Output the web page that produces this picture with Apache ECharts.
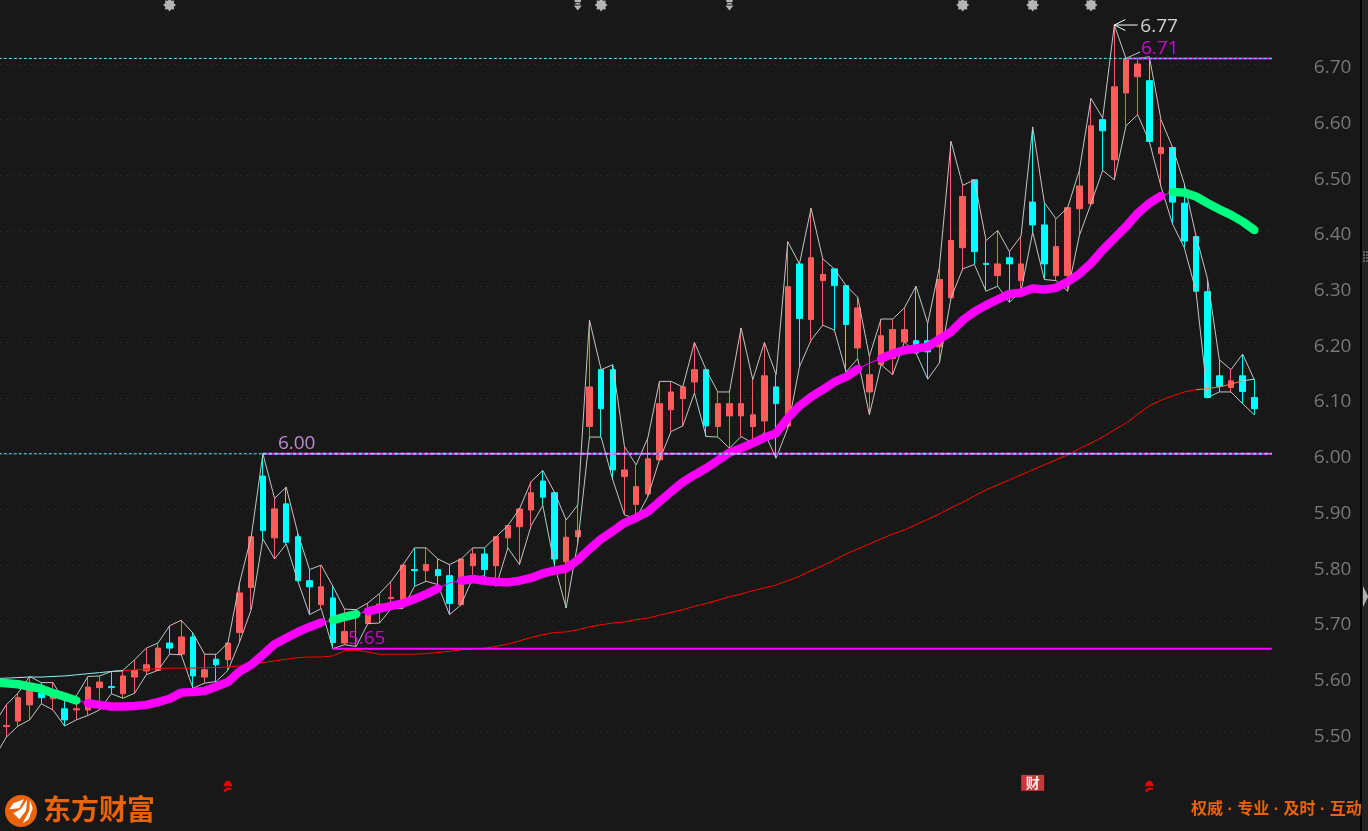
<!DOCTYPE html>
<html>
<head>
<meta charset="utf-8">
<title>K-line</title>
<style>
	html, body { margin: 0; padding: 0; background: #181818; }
	#main { width: 1368px; height: 831px; }
</style>
<script src="https://cdn.jsdelivr.net/npm/echarts@6/dist/echarts.min.js"></script>
</head>
<body>
<div id="main"></div>
<script>
// -------------------------
// Data
// First entry of each array sits just off the left edge, so the lines enter the plot from outside
// -------------------------
const opens = [
	5.500, 5.510, 5.520, 5.549, 5.570, 5.560, 5.542, 5.540, 5.540, 5.580,
	5.582, 5.569, 5.599, 5.610, 5.611, 5.660, 5.640, 5.671, 5.599, 5.631,
	5.630, 5.679, 5.760, 5.960, 5.849, 5.910, 5.851, 5.772, 5.729, 5.741,
	5.660, 5.708, 5.695, 5.720, 5.740, 5.732, 5.792, 5.790, 5.792, 5.781,
	5.729, 5.799, 5.820, 5.799, 5.849, 5.869, 5.899, 5.951, 5.930, 5.806,
	5.851, 6.049, 6.151, 6.151, 5.959, 5.909, 5.928, 5.989, 6.079, 6.099,
	6.129, 6.151, 6.049, 6.068, 6.068, 6.049, 6.059, 6.120, 6.050, 6.341,
	6.241, 6.311, 6.332, 6.302, 6.190, 6.111, 6.160, 6.171, 6.201, 6.203,
	6.203, 6.192, 6.280, 6.370, 6.492, 6.342, 6.320, 6.352, 6.311, 6.452,
	6.411, 6.320, 6.320, 6.440, 6.449, 6.600, 6.528, 6.648, 6.677, 6.670,
	6.539, 6.550, 6.450, 6.390, 6.291, 6.140, 6.119, 6.140, 6.101
];
const closes = [
	5.490, 5.512, 5.562, 5.576, 5.562, 5.567, 5.522, 5.542, 5.581, 5.590,
	5.580, 5.601, 5.611, 5.621, 5.651, 5.651, 5.671, 5.601, 5.612, 5.621,
	5.660, 5.750, 5.851, 5.862, 5.901, 5.841, 5.772, 5.761, 5.761, 5.661,
	5.681, 5.714, 5.720, 5.730, 5.742, 5.800, 5.790, 5.801, 5.781, 5.731,
	5.811, 5.820, 5.792, 5.851, 5.871, 5.901, 5.930, 5.922, 5.811, 5.850,
	5.862, 6.120, 6.081, 5.971, 5.971, 5.941, 5.991, 6.090, 6.111, 6.120,
	6.151, 6.050, 6.090, 6.090, 6.090, 6.070, 6.140, 6.090, 6.300, 6.243,
	6.352, 6.322, 6.302, 6.232, 6.262, 6.142, 6.212, 6.223, 6.223, 6.181,
	6.183, 6.313, 6.383, 6.462, 6.363, 6.340, 6.341, 6.341, 6.341, 6.411,
	6.341, 6.372, 6.442, 6.481, 6.589, 6.580, 6.659, 6.710, 6.700, 6.561,
	6.550, 6.452, 6.382, 6.292, 6.101, 6.121, 6.131, 6.112, 6.081
];
const lows = [
	5.455, 5.491, 5.511, 5.522, 5.551, 5.540, 5.511, 5.522, 5.530, 5.540,
	5.569, 5.561, 5.570, 5.603, 5.611, 5.640, 5.639, 5.579, 5.588, 5.591,
	5.611, 5.662, 5.720, 5.847, 5.811, 5.838, 5.771, 5.711, 5.722, 5.650,
	5.657, 5.654, 5.695, 5.696, 5.722, 5.722, 5.762, 5.771, 5.765, 5.711,
	5.729, 5.777, 5.781, 5.762, 5.831, 5.801, 5.871, 5.907, 5.800, 5.723,
	5.840, 6.030, 6.030, 5.953, 5.890, 5.884, 5.923, 5.989, 6.040, 6.050,
	6.109, 6.031, 6.030, 6.010, 6.031, 6.019, 6.038, 5.992, 6.046, 6.156,
	6.204, 6.231, 6.222, 6.147, 6.171, 6.070, 6.160, 6.142, 6.201, 6.181,
	6.134, 6.163, 6.280, 6.332, 6.340, 6.292, 6.301, 6.272, 6.292, 6.398,
	6.313, 6.311, 6.292, 6.392, 6.449, 6.509, 6.492, 6.589, 6.609, 6.561,
	6.480, 6.412, 6.370, 6.292, 6.101, 6.111, 6.111, 6.090, 6.070
];
const highs = [
	5.516, 5.549, 5.570, 5.600, 5.589, 5.589, 5.555, 5.565, 5.600, 5.601,
	5.609, 5.611, 5.630, 5.651, 5.660, 5.691, 5.701, 5.678, 5.640, 5.640,
	5.660, 5.768, 5.851, 6.000, 5.920, 5.940, 5.857, 5.792, 5.800, 5.762,
	5.721, 5.720, 5.732, 5.749, 5.771, 5.800, 5.831, 5.831, 5.811, 5.801,
	5.811, 5.831, 5.831, 5.851, 5.871, 5.901, 5.950, 5.970, 5.931, 5.881,
	5.908, 6.240, 6.151, 6.160, 6.013, 5.980, 6.028, 6.130, 6.130, 6.120,
	6.200, 6.151, 6.111, 6.111, 6.226, 6.133, 6.200, 6.142, 6.381, 6.341,
	6.441, 6.350, 6.332, 6.302, 6.281, 6.175, 6.242, 6.242, 6.262, 6.301,
	6.234, 6.335, 6.561, 6.482, 6.492, 6.383, 6.401, 6.363, 6.391, 6.587,
	6.451, 6.422, 6.442, 6.509, 6.638, 6.603, 6.770, 6.710, 6.710, 6.713,
	6.600, 6.550, 6.485, 6.392, 6.313, 6.169, 6.151, 6.179, 6.133
];
const trendLine = [
	5.589, 5.588, 5.586, 5.582, 5.578, 5.570, 5.564, 5.557, 5.552, 5.549,
	5.546, 5.546, 5.547, 5.549, 5.554, 5.560, 5.571, 5.572, 5.574, 5.582,
	5.590, 5.609, 5.621, 5.639, 5.658, 5.669, 5.680, 5.689, 5.697, 5.701,
	5.707, 5.712, 5.717, 5.722, 5.727, 5.731, 5.739, 5.748, 5.758, 5.768,
	5.772, 5.775, 5.772, 5.770, 5.769, 5.772, 5.777, 5.785, 5.790, 5.794,
	5.809, 5.829, 5.847, 5.861, 5.876, 5.885, 5.896, 5.914, 5.932, 5.949,
	5.962, 5.974, 5.988, 6.002, 6.010, 6.019, 6.029, 6.037, 6.064, 6.086,
	6.102, 6.115, 6.129, 6.138, 6.152, 6.163, 6.171, 6.180, 6.186, 6.189,
	6.192, 6.206, 6.219, 6.240, 6.255, 6.267, 6.277, 6.287, 6.289, 6.297,
	6.295, 6.298, 6.309, 6.323, 6.342, 6.366, 6.387, 6.408, 6.432, 6.450,
	6.463, 6.470, 6.469, 6.462, 6.450, 6.439, 6.429, 6.417, 6.402
];
const slowLine = [
	5.596, 5.597, 5.598, 5.599, 5.599, 5.600, 5.601, 5.603, 5.605, 5.607,
	5.609, 5.610, 5.612, 5.613, 5.614, 5.615, 5.615, 5.615, 5.616, 5.616,
	5.617, 5.619, 5.622, 5.625, 5.628, 5.631, 5.634, 5.635, 5.635, 5.637,
	5.646, 5.647, 5.644, 5.640, 5.640, 5.640, 5.640, 5.641, 5.643, 5.645,
	5.648, 5.649, 5.651, 5.654, 5.658, 5.664, 5.670, 5.675, 5.679, 5.680,
	5.684, 5.689, 5.693, 5.696, 5.698, 5.702, 5.705, 5.710, 5.715, 5.720,
	5.726, 5.731, 5.737, 5.743, 5.748, 5.754, 5.759, 5.764, 5.772, 5.780,
	5.790, 5.799, 5.809, 5.820, 5.829, 5.838, 5.847, 5.856, 5.863, 5.873,
	5.882, 5.892, 5.903, 5.913, 5.924, 5.935, 5.944, 5.953, 5.962, 5.971,
	5.980, 5.989, 5.998, 6.009, 6.019, 6.030, 6.043, 6.055, 6.071, 6.086,
	6.096, 6.104, 6.111, 6.115, 6.117, 6.120, 6.125, 6.131, 6.134
];

const priceTicks = [5.5, 5.6, 5.7, 5.8, 5.9, 6.0, 6.1, 6.2, 6.3, 6.4, 6.5, 6.6, 6.7];

// Support / resistance levels and the bar they start at
const levelValues = [6.71, 6.00, 5.65];
const levelStarts = [97, 23, 29];
const dashedLevels = [6.71, 6.00];

// Index ranges of the thick line, by colour
const trendUpRanges = [[8, 28], [32, 38], [40, 74], [76, 100]];
const trendDownRanges = [[0, 7], [29, 31], [101, 108]];

// Event markers along the top and bottom edge, by bar index
const gearBars = [15, 52, 83, 89, 94];
const arrowBars = [50, 63];
const redMarkBars = [20, 99];
const reportBars = [89];

// Colours
const colorUp = '#ff5c5c';
const colorDown = '#00ffff';
const colorHiLo = '#c4c4c4';
const colorMagenta = '#ff00ff';
const colorGreen = '#00ff7f';
const colorOrange = '#e8630a';
const colorBg = '#181818';
const colorDash = '#63dcff';

// ----------------------
// Helper functions
// ----------------------

// Keep values in [from, to], blank out the rest
function pick(values, from, to) {
	return values.map((v, i) => (i >= from && i <= to) ? v : null);
}

function thinLine(name, data, color, width) {
	return {
		name: name,
		type: 'line',
		data: data,
		showSymbol: false,
		connectNulls: false,
		silent: true,
		lineStyle: { color: color, width: width || 1 },
		z: 3
	};
}

function thickLine(values, ranges, color) {
	return ranges.map(r => ({
		type: 'line',
		data: pick(values, r[0], r[1]),
		showSymbol: false,
		silent: true,
		lineStyle: { color: color, width: 8.5, cap: 'round', join: 'round' },
		z: 5
	}));
}

// A level line on the hidden value x axis, which can run to the very edge of the plot
function levelLine(value, from, color, dash, width) {
	return {
		type: 'line',
		xAxisIndex: 1,
		data: [[from, value], [110, value]],
		showSymbol: false,
		silent: true,
		lineStyle: { color: color, width: width || 1, type: dash || 'solid' },
		z: 6
	};
}

function textMark(barIndex, value, text, color, distance, dy) {
	return {
		value: [barIndex + 0.5, value],
		label: {
			show: true,
			formatter: text,
			position: 'right',
			distance: distance,
			offset: [0, dy],
			color: color,
			fontFamily: '"Open Sans", sans-serif',
			fontSize: 19
		}
	};
}

function edgeMarks(bars, value, symbol, size, color) {
	return {
		type: 'scatter',
		data: bars.map(b => [b, value]),
		symbol: symbol,
		symbolSize: size,
		itemStyle: { color: color, opacity: 1 },
		clip: false,
		silent: true,
		z: 8
	};
}

// ----------------------
// Symbols
// ----------------------
const gearPath = 'path://M10 0L12.68 3.53L17.07 2.93L16.47 7.32L20 10L16.47 12.68L17.07 17.07L12.68 16.47L10 20L7.32 16.47L2.93 17.07L3.53 12.68L0 10L3.53 7.32L2.93 2.93L7.32 3.53Z';
const arrowPath = 'path://M1 0H9V3H1ZM2 4H8V6H2ZM0 7H10L5 13Z';
const redMarkPath = 'path://M0 6C1 2 3 0 5 0C7 0 9 2 10 6ZM0 12C1 9 3 7.5 6 7.5C8 7.5 9 8.5 10 10H7C6 9.5 4 10 3 12Z';
const chevronPath = 'path://M11 0L0 5.5L11 11';

// ----------------------
// Chart
// ----------------------
const categories = highs.map((_, i) => String(i)).concat(['']);
const candles = opens.map((o, i) => [o, closes[i], lows[i], highs[i]]);

const series = [
	{
		type: 'candlestick',
		data: candles,
		barWidth: 6,
		silent: true,
		itemStyle: {
			color: colorUp,
			color0: colorDown,
			borderColor: colorUp,
			borderColor0: colorDown,
			borderWidth: 1
		},
		z: 2
	},
	thinLine('high', highs, colorHiLo),
	thinLine('low', lows, colorHiLo),
	thinLine('slow', pick(slowLine, 0, 11), '#8ff0f0'),
	thinLine('slow', pick(slowLine, 11, 103), '#ff0000'),
	thinLine('slow', pick(slowLine, 103, 107), '#ff8040'),
	thinLine('slow', pick(slowLine, 107, 108), '#8ff0f0'),
	thinLine('trend', trendLine, colorMagenta),
	...thickLine(trendLine, trendUpRanges, colorMagenta),
	...thickLine(trendLine, trendDownRanges, colorGreen),
	...levelValues.map((v, i) => levelLine(v, levelStarts[i] + 0.5, colorMagenta, 'solid', 2)),
	...dashedLevels.map(v => levelLine(v, 0, colorDash, [3, 2], 1)),
	levelLine(6.00, levelStarts[1] + 0.5, colorDash, [3, 3], 2),
	// pointer to the high
	{
		type: 'line',
		xAxisIndex: 1,
		data: [
			{
				value: [96.5, 6.77],
				symbol: chevronPath,
				symbolSize: [11, 11],
				symbolOffset: [5.5, 0],
				itemStyle: { color: 'none', borderColor: '#ffffff', borderWidth: 1 }
			},
			{ value: [98.5, 6.77], symbol: 'none' }
		],
		showAllSymbol: true,
		silent: true,
		lineStyle: { color: '#ffffff', width: 1 },
		z: 7
	},
	// leader to the 6.71 label
	{
		type: 'line',
		xAxisIndex: 1,
		data: [[97.5, 6.71], [98.7, 6.7215]],
		showSymbol: false,
		silent: true,
		lineStyle: { color: colorHiLo, width: 1 },
		z: 7
	},
	{
		type: 'scatter',
		xAxisIndex: 1,
		symbolSize: 0,
		silent: true,
		z: 9,
		data: [
			textMark(23, 6.00, '6.00', '#e6a4ff', 15, -10),
			textMark(29, 5.65, '5.65', colorMagenta, 15, -10),
			textMark(96, 6.77, '6.77', '#ffffff', 26, 2),
			textMark(97, 6.71, '6.71', colorMagenta, 15, -10)
		]
	},
	edgeMarks(gearBars, 6.806, gearPath, 13, '#b4b4b4'),
	edgeMarks(arrowBars, 6.806, arrowPath, [8, 11], '#b4b4b4'),
	edgeMarks(redMarkBars, 5.403, redMarkPath, [9, 11], '#ee0000'),
	{
		type: 'scatter',
		data: reportBars.map(b => [b, 5.409]),
		symbol: 'rect',
		symbolSize: [23, 16],
		itemStyle: { color: '#c23a3a', opacity: 1 },
		label: {
			show: true,
			position: 'inside',
			formatter: '财',
			color: '#ffe6e6',
			fontWeight: 'bold',
			fontSize: 14,
			fontFamily: '"Noto Sans CJK SC", sans-serif'
		},
		clip: false,
		silent: true,
		z: 8
	}
];

const handleDots = [];
for (let row = 0; row < 4; row++) {
	for (let col = 0; col < 2; col++) {
		handleDots.push({
			type: 'rect',
			shape: { x: 1363 + col * 3, y: 251 + row * 3, width: 2, height: 2 },
			style: { fill: '#5e5e5e' }
		});
	}
}

const option = {
	animation: false,
	backgroundColor: colorBg,
	grid: { left: -11.2, top: -19.52, width: 1283, height: 807.36, outerBoundsMode: 'none' },
	xAxis: [
		{ type: 'category', data: categories, show: false, boundaryGap: true },
		{ type: 'value', min: 0, max: 110, show: false }
	],
	yAxis: {
		type: 'value',
		position: 'right',
		min: 5.4,
		max: 6.85,
		scale: true,
		axisLine: { show: true, lineStyle: { color: '#2c2c2c' } },
		axisTick: {
			show: true,
			length: 5,
			customValues: priceTicks,
			lineStyle: { color: '#3a3a3a', type: [1, 5] }
		},
		axisLabel: {
			customValues: priceTicks,
			formatter: v => v.toFixed(2),
			margin: 42,
			verticalAlign: 'top',
			lineHeight: 8,
			color: '#787878',
			fontFamily: '"Open Sans", sans-serif',
			fontSize: 19
		},
		splitLine: { show: true, lineStyle: { color: '#3a3a3a', width: 1, type: [1, 5] } }
	},
	series: series,
	graphic: [
		// right hand panel edge and handles
		{ type: 'rect', shape: { x: 1362, y: 0, width: 6, height: 831 }, style: { fill: '#222222' } },
		{ type: 'rect', shape: { x: 1360, y: 0, width: 2, height: 831 }, style: { fill: '#000000' } },
		{ type: 'polygon', shape: { points: [[1363, 586], [1368, 596], [1368, 597], [1363, 607]] }, style: { fill: '#b0b0b0' } },
		...handleDots,
		// logo
		{ type: 'circle', shape: { cx: 21, cy: 811, r: 16 }, style: { fill: colorOrange } },
		{ type: 'polygon', shape: { points: [[24, 799.3], [13.3, 803.3], [9.3, 809.3], [19.3, 808.3]] }, style: { fill: '#ffffff' } },
		{ type: 'polygon', shape: { points: [[27.3, 799.3], [20.7, 809.3], [13.3, 813.3], [19.3, 819.3], [26, 810.7]] }, style: { fill: '#ffffff' } },
		{ type: 'polygon', shape: { points: [[30, 800], [29.3, 810.7], [22.7, 823.3], [28.7, 819.3], [32.7, 808.3]] }, style: { fill: '#ffffff' } },
		{
			type: 'text',
			left: 43,
			top: 795,
			style: {
				text: '东方财富',
				fill: colorOrange,
				font: 'bold 28px "Noto Sans CJK SC", sans-serif'
			}
		},
		{
			type: 'text',
			left: 1191,
			top: 802,
			style: {
				text: '权威 · 专业 · 及时 · 互动',
				fill: colorOrange,
				font: 'bold 16px "Liberation Sans", "Noto Sans CJK SC", sans-serif'
			}
		}
	]
};

const chart = echarts.init(document.getElementById('main'));
chart.setOption(option);
</script>
</body>
</html>
